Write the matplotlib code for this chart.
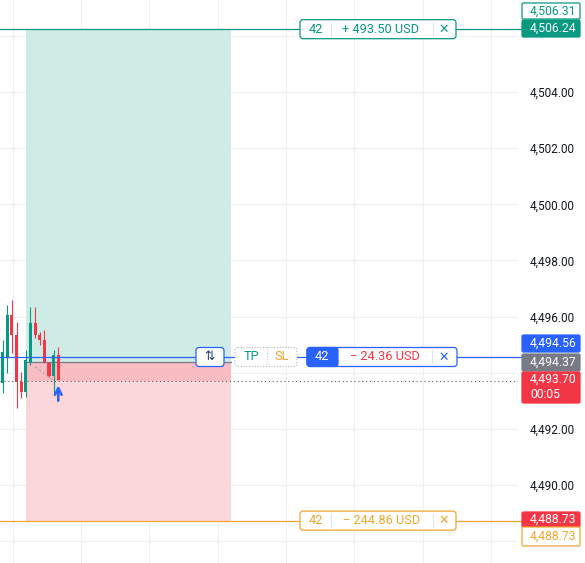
import numpy as np
import matplotlib
matplotlib.use('Agg')
import matplotlib.pyplot as plt
import matplotlib.transforms as mtransforms
from matplotlib.patches import FancyBboxPatch, Rectangle

plt.rcParams['font.family'] = ['Roboto', 'DejaVu Sans']

# candles (one per bar)
opens  = [4493.64, 4494.56, 4496.06, 4495.35, 4493.67, 4493.31, 4494.38,
          4495.77, 4495.35, 4495.17, 4494.35, 4493.88, 4494.63]
highs  = [4495.17, 4496.41, 4496.59, 4495.81, 4494.03, 4494.81, 4496.34,
          4496.34, 4495.45, 4495.52, 4494.38, 4494.81, 4494.92]
lows   = [4493.28, 4493.99, 4494.70, 4492.74, 4493.10, 4493.14, 4494.28,
          4495.24, 4494.99, 4494.35, 4493.84, 4493.28, 4493.74]
closes = [4494.74, 4496.06, 4495.35, 4493.67, 4493.31, 4494.45, 4495.77,
          4495.35, 4495.17, 4494.38, 4493.88, 4494.63, 4493.74]

# long position
tp_price = 4506.24
tp_alt_price = 4506.31
entry_price = 4494.56
avg_price = 4494.37
last_price = 4493.70
sl_price = 4488.73
qty = '42'
tp_pnl = '+ 493.50 USD'
open_pnl = '\u2212 24.36 USD'
sl_pnl = '\u2212 244.86 USD'
countdown = '00:05'
box_start, box_end = 5.0, 49.3
trend_x = [7.0, 10.9]
trend_y = [4494.22, 4493.72]
price_ticks = [4488, 4490, 4492, 4494, 4496, 4498, 4500, 4502, 4504, 4506]
hidden_ticks = [4488, 4494, 4506]   # covered by the price badges

GREEN = '#089981'
RED = '#f23645'
BLUE = '#2962ff'
GRAY = '#787b86'
ORANGE = '#f0a530'

W, H = 585, 563
fig = plt.figure(figsize=(W / 100, H / 100), dpi=100)
ax = fig.add_axes([0, 0, 518 / W, 1])
ax.set_xlim(-0.58, 111.3)
ax.set_ylim(4487.22, 4507.28)
for s in ax.spines.values():
    s.set_visible(False)

ax.set_xticks(np.arange(2.2, 111, 14.75))
ax.set_yticks(price_ticks)
ax.set_yticklabels(['' if v in hidden_ticks else f'{v:,.2f}' for v in price_ticks])
ax.yaxis.tick_right()
ax.tick_params(axis='x', length=0, labelbottom=False)
ax.tick_params(axis='y', length=0, pad=8.6, labelsize=8.5, labelcolor='#131722')
ax.grid(color='#eef0f4', lw=0.8)
ax.set_axisbelow(True)

# profit / loss zones
ax.fill_between([box_start, box_end], avg_price, tp_price, color='#ceebe6', lw=0, zorder=1)
ax.fill_between([box_start, box_end], sl_price, last_price, color='#fcd7da', lw=0, zorder=1)
ax.fill_between([box_start, box_end], last_price, avg_price, color='#f9bcc2', lw=0, zorder=1)
ax.plot([box_start, box_end], [avg_price, avg_price], color=GRAY, lw=0.9, zorder=2)

# candles
for i, (o, h, l, c) in enumerate(zip(opens, highs, lows, closes)):
    col = GREEN if c >= o else RED
    ax.vlines(i, l, h, color=col, lw=0.8, zorder=3)
    ax.bar(i, max(abs(c - o), 0.03), bottom=min(o, c), width=0.66, color=col, lw=0, zorder=3)

ax.plot(trend_x, trend_y, color='#a3a6af', lw=0.7, ls=(0, (3, 2)), zorder=3)
ax.annotate('', xy=(12, 4493.55), xytext=(12, 4493.0),
            arrowprops=dict(arrowstyle='->', color=BLUE, lw=1.8, mutation_scale=12,
                            shrinkA=0, shrinkB=0), zorder=4)

# price lines
ytr = ax.get_yaxis_transform()
ext = 522 / 518
ax.plot([0, ext], [tp_price] * 2, transform=ytr, clip_on=False, color=GREEN, lw=0.9, zorder=4)
ax.plot([0, ext], [entry_price] * 2, transform=ytr, clip_on=False, color=BLUE, lw=0.9, zorder=4)
ax.plot([0, ext], [sl_price] * 2, transform=ytr, clip_on=False, color=ORANGE, lw=0.9, zorder=4)
ax.axhline(last_price, color='#5d606b', lw=0.8, ls=(0, (1, 2.5)), zorder=4)

# pixel helpers (top-left origin)
tr = mtransforms.Affine2D().scale(1, -1).translate(0, H)


def ytop(price):
    return H - ax.transData.transform((0, price))[1]


def box(x0, x1, yc, h, fc, ec, lw=0.9, ls='-', r=3, z=5):
    p = FancyBboxPatch((x0, yc - h / 2), x1 - x0, h,
                       boxstyle=f'round,pad=0,rounding_size={r}',
                       transform=tr, fc=fc, ec=ec, lw=lw, ls=ls, clip_on=False, zorder=z)
    fig.add_artist(p)


def rect(x0, x1, y0, y1, fc, z=5):
    fig.add_artist(Rectangle((x0, y0), x1 - x0, y1 - y0, transform=tr, fc=fc, ec='none',
                             clip_on=False, zorder=z))


def label(x, y, s, color, size=9.2, ha='center'):
    fig.text(x, y, s, transform=tr, color=color, fontsize=size, ha=ha, va='center', zorder=7)


def sep(x, yc, h=13):
    fig.add_artist(plt.Line2D([x, x], [yc - h / 2, yc + h / 2], transform=tr,
                              color='#e0e3eb', lw=0.8, zorder=6))


# TP label
yc = ytop(tp_price)
box(300, 456, yc, 19, 'white', GREEN)
label(316, yc, qty, GREEN)
sep(331, yc)
label(381, yc, tp_pnl, GREEN)
sep(433, yc)
label(444, yc, '\u2715', GREEN, size=9)

# entry row
yc = ytop(entry_price)
box(196, 224, yc, 19, 'white', BLUE)
label(210, yc, '\u21c5', '#2b3f75', size=9)
box(235, 297, yc, 19, 'white', '#b2b5be', lw=0.8, ls=(0, (1, 1.5)))
fig.add_artist(plt.Line2D([267, 267], [yc - 9.5, yc + 9.5], transform=tr,
                          color='#c8cad0', lw=0.8, ls=(0, (1, 1.5)), zorder=6))
label(251, yc, 'TP', GREEN)
label(282, yc, 'SL', ORANGE)
box(307, 457, yc, 19, 'white', BLUE)
box(307, 338, yc, 19, BLUE, BLUE, z=5.5)
rect(330, 338, yc - 9.5 - 0.4, yc + 9.5 + 0.4, BLUE, z=5.6)
label(322, yc, qty, 'white')
label(385, yc, open_pnl, RED)
sep(432, yc)
label(444, yc, '\u2715', BLUE, size=9)

# SL label
yc = ytop(sl_price)
box(300, 456, yc, 19, 'white', ORANGE)
label(316, yc, qty, ORANGE)
sep(331, yc)
label(382, yc, sl_pnl, ORANGE)
sep(433, yc)
label(444, yc, '\u2715', ORANGE, size=9)

# price scale badges
bx0, bx1, tx = 522, 580, 530
box(bx0, bx1, 11, 16, 'white', GREEN, r=1.5)
label(tx, 11, f'{tp_alt_price:,.2f}', GREEN, size=8.7, ha='left')
box(bx0, bx1, 28.5, 17, GREEN, GREEN, r=1.5)
label(tx, 28.5, f'{tp_price:,.2f}', 'white', size=8.7, ha='left')

box(bx0, bx1, 343.5, 17, BLUE, BLUE, r=1.5)
label(tx, 343.5, f'{entry_price:,.2f}', 'white', size=8.7, ha='left')
box(bx0, bx1, 362.5, 17, GRAY, GRAY, r=1.5)
label(tx, 362.5, f'{avg_price:,.2f}', 'white', size=8.7, ha='left')
box(bx0, bx1, 387.5, 31, RED, RED, r=1.5)
label(tx, 379.5, f'{last_price:,.2f}', 'white', size=8.7, ha='left')
label(tx, 394.5, countdown, 'white', size=8.7, ha='left')

box(bx0, bx1, 519.5, 15, RED, RED, r=1.5)
label(tx, 519.5, f'{sl_price:,.2f}', 'white', size=8.7, ha='left')
box(bx0, bx1, 536.5, 19, 'white', ORANGE, r=1.5)
label(tx, 536.5, f'{sl_price:,.2f}', ORANGE, size=8.7, ha='left')

fig.savefig('out.png', dpi=100)
